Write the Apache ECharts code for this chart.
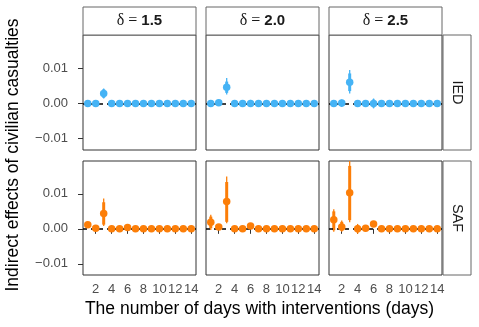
<!DOCTYPE html>
<html><head><meta charset="utf-8">
<script src="https://cdn.jsdelivr.net/npm/echarts@6/dist/echarts.min.js"></script>
<style>html,body{margin:0;padding:0;background:#fff}#c{width:479px;height:327px}</style>
</head><body><div id="c"></div>
<script>
// ---- data ----
const days = [1,2,3,4,5,6,7,8,9,10,11,12,13,14];
const deltas = ['1.5','2.0','2.5'];
const types = ['IED','SAF'];
const xTicks = [2,4,6,8,10,12,14];
const yTicks = [-0.01, 0, 0.01];

// IED, delta 1.5
const ied15Est = [0,0,0.0028,0,0,0,0,0,0,0,0,0,0,0];
const ied15Lo  = [0,0,0.0014,0,0,0,0,0,0,0,0,0,0,0];
const ied15Hi  = [0,0,0.0042,0,0,0,0,0,0,0,0,0,0,0];
const ied15Lo2 = [0,0,0.0016,0,0,0,0,0,0,0,0,0,0,0];
const ied15Hi2 = [0,0,0.0040,0,0,0,0,0,0,0,0,0,0,0];
// IED, delta 2.0
const ied20Est = [0,0.0002,0.0046,0,0,0,0,0,0,0,0,0,0,0];
const ied20Lo  = [0,0.0002,0.0025,0,0,-0.0010,0,0,0,0,0,0,0,0];
const ied20Hi  = [0,0.0002,0.0072,0,0,0.0010,0,0,0,0,0,0,0,0];
const ied20Lo2 = [0,0.0002,0.0030,0,0,-0.0008,0,0,0,0,0,0,0,0];
const ied20Hi2 = [0,0.0002,0.0062,0,0,0.0008,0,0,0,0,0,0,0,0];
// IED, delta 2.5
const ied25Est = [0,0.0001,0.0060,0,0,0,0,0,0,0,0,0,0,0];
const ied25Lo  = [0,-0.0010,0.0028,0,0,-0.0014,0,0,0,0,0,0,0,0];
const ied25Hi  = [0,0.0011,0.0095,0,0,0.0014,0,0,0,0,0,0,0,0];
const ied25Lo2 = [0,-0.0008,0.0035,0,0,-0.0011,0,0,0,0,0,0,0,0];
const ied25Hi2 = [0,0.0009,0.0085,0,0,0.0011,0,0,0,0,0,0,0,0];
// SAF, delta 1.5
const saf15Est = [0.0012,0.0002,0.0044,0,0,0.0004,0,0,0,0,0,0,0,0];
const saf15Lo  = [0.0005,0.0002,0.0008,0,0,0.0004,0,0,0,0,0,0,0,0];
const saf15Hi  = [0.0018,0.0002,0.0087,0,0,0.0004,0,0,0,0,0,0,0,0];
const saf15Lo2 = [0.0006,0.0002,0.0012,0,0,0.0004,0,0,0,0,0,0,0,0];
const saf15Hi2 = [0.0017,0.0002,0.0076,0,0,0.0004,0,0,0,0,0,0,0,0];
// SAF, delta 2.0
const saf20Est = [0.0019,0.0005,0.0078,0,0,0.0008,0,0,0,0,0,0,0,0];
const saf20Lo  = [-0.0003,0.0005,0.0016,0,0,0.0008,0,0,0,0,0,0,0,0];
const saf20Hi  = [0.0040,0.0005,0.0150,0,0,0.0008,0,0,0,0,0,0,0,0];
const saf20Lo2 = [0.0002,0.0005,0.0020,0,0,0.0008,0,0,0,0,0,0,0,0];
const saf20Hi2 = [0.0035,0.0005,0.0134,0,0,0.0008,0,0,0,0,0,0,0,0];
// SAF, delta 2.5
const saf25Est = [0.0026,0.0005,0.0103,0,0.0002,0.0014,0,0,0,0,0,0,0,0];
const saf25Lo  = [-0.0008,-0.0008,0.0019,-0.0014,0.0002,0.0014,0,0,0,0,0,0,0,0];
const saf25Hi  = [0.0056,0.0024,0.0195,0.0014,0.0002,0.0014,0,0,0,0,0,0,0,0];
const saf25Lo2 = [-0.0004,-0.0005,0.0025,-0.0010,0.0002,0.0014,0,0,0,0,0,0,0,0];
const saf25Hi2 = [0.0050,0.0020,0.0180,0.0010,0.0002,0.0014,0,0,0,0,0,0,0,0];

const panels = [
  [ied15Est,ied15Lo,ied15Hi,ied15Lo2,ied15Hi2],
  [ied20Est,ied20Lo,ied20Hi,ied20Lo2,ied20Hi2],
  [ied25Est,ied25Lo,ied25Hi,ied25Lo2,ied25Hi2],
  [saf15Est,saf15Lo,saf15Hi,saf15Lo2,saf15Hi2],
  [saf20Est,saf20Lo,saf20Hi,saf20Lo2,saf20Hi2],
  [saf25Est,saf25Lo,saf25Hi,saf25Lo2,saf25Hi2]
];

// ---- layout / style ----
const colors = ['#45B3F5', '#FC7E08'];
const lefts = [83, 206, 329];
const tops = [35, 161];
const W = 113;
const FONT = 'Liberation Sans, Arial, sans-serif';

const chart = echarts.init(document.getElementById('c'), null, {renderer:'canvas'});
const grid = [], xAxis = [], yAxis = [], series = [], graphic = [];

for (let r = 0; r < 2; r++) {
  for (let c = 0; c < 3; c++) {
    const i = r*3 + c;
    grid.push({left: lefts[c], top: tops[r], width: W, height: r===0?115:114,
      show: true, borderColor: '#333', borderWidth: 1, backgroundColor: '#fff'});
    xAxis.push({gridIndex: i, type: 'value', min: 0.4, max: 14.6,
      axisLine: {show: false}, splitLine: {show: false},
      axisTick: {show: r===1, customValues: xTicks, length: 5, lineStyle: {color: '#333'}},
      axisLabel: {show: r===1, customValues: xTicks, color: '#4D4D4D', fontSize: 13, margin: 8, fontFamily: FONT}});
    yAxis.push({gridIndex: i, type: 'value', min: -0.0132, max: 0.0194,
      axisLine: {show: false}, splitLine: {show: false},
      axisTick: {show: c===0, customValues: yTicks, length: 5, lineStyle: {color: '#333'}},
      axisLabel: {show: c===0, customValues: yTicks, color: '#4D4D4D', fontSize: 13, margin: 15, fontFamily: FONT,
        formatter: v => (v < 0 ? '\u2212' : '') + Math.abs(v).toFixed(2)}});
    const p = panels[i];
    const col = colors[r];
    const ebData = days.map((d, k) => [d, p[0][k], p[1][k], p[2][k], p[3][k], p[4][k]]);
    series.push({
      type: 'custom', xAxisIndex: i, yAxisIndex: i, z: 2, clip: true,
      data: ebData,
      renderItem: (params, api) => {
        const x = api.value(0);
        const a = api.coord([x, api.value(2)]), b = api.coord([x, api.value(3)]);
        const a2 = api.coord([x, api.value(4)]), b2 = api.coord([x, api.value(5)]);
        const ch = [];
        if (Math.abs(a[1]-b[1]) > 0.5) ch.push({type:'line', shape:{x1:a[0],y1:a[1],x2:b[0],y2:b[1]}, style:{stroke: col, lineWidth: 1.3}});
        if (Math.abs(a2[1]-b2[1]) > 0.5) ch.push({type:'line', shape:{x1:a2[0],y1:a2[1],x2:b2[0],y2:b2[1]}, style:{stroke: col, lineWidth: 3}});
        return {type:'group', children: ch};
      },
      markLine: {silent: true, symbol: 'none', label: {show: false},
        lineStyle: {color: '#000', type: [4,4], width: 1.5}, data: [{yAxis: 0}]}
    });
    series.push({type: 'scatter', xAxisIndex: i, yAxisIndex: i, z: 5,
      symbol: 'circle', symbolSize: 7.5, itemStyle: {color: col, opacity: 1},
      data: days.map((d, k) => [d, p[0][k]])});
  }
}

// strips
for (let c = 0; c < 3; c++) {
  graphic.push({type: 'rect', shape: {x: lefts[c], y: 7, width: W, height: 28},
    style: {fill: '#fff', stroke: '#666', lineWidth: 1}});
  graphic.push({type: 'text', x: lefts[c] + W/2, y: 21,
    style: {text: '{d|\u03b4 = }{b|' + deltas[c] + '}', align: 'center', verticalAlign: 'middle',
      rich: {d: {fontFamily: 'Liberation Serif, DejaVu Serif, serif', fontSize: 16, fill: '#1a1a1a'},
             b: {fontFamily: FONT, fontWeight: 'bold', fontSize: 15, fill: '#1a1a1a'}}}});
}
for (let r = 0; r < 2; r++) {
  const h = r===0?115:114;
  graphic.push({type: 'rect', shape: {x: 443, y: tops[r], width: 28, height: h},
    style: {fill: '#fff', stroke: '#666', lineWidth: 1}});
  graphic.push({type: 'text', x: 457, y: tops[r] + h/2, rotation: -Math.PI/2,
    style: {text: types[r], align: 'center', verticalAlign: 'middle', fontFamily: FONT, fontSize: 14.5, fill: '#1a1a1a'}});
}
// axis titles
graphic.push({type: 'text', x: 259.5, y: 309,
  style: {text: 'The number of days with interventions (days)', align: 'center', verticalAlign: 'middle',
    fontFamily: FONT, fontSize: 17.5, fill: '#000'}});
graphic.push({type: 'text', x: 13, y: 155, rotation: Math.PI/2,
  style: {text: 'Indirect effects of civilian casualties', align: 'center', verticalAlign: 'middle',
    fontFamily: FONT, fontSize: 17.5, fill: '#000'}});

chart.setOption({animation: false, grid, xAxis, yAxis, series, graphic});
</script></body></html>
